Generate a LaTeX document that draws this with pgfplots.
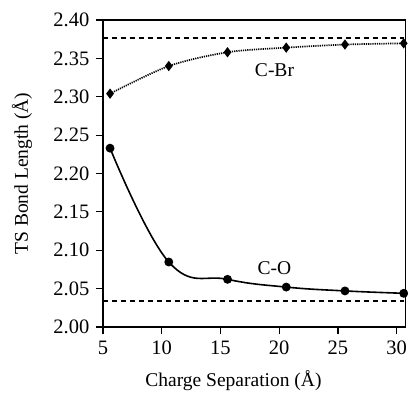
\documentclass[border=0pt]{standalone}
\usepackage{pgfplots}
\pgfplotsset{compat=1.18}
\usepackage{fontspec}
\setmainfont{Liberation Serif}
\begin{document}
\fontsize{19.5}{22}\selectfont
\begin{tikzpicture}
\path[use as bounding box] (0,0) rectangle (408pt,393pt);
\begin{axis}[
  at={(103pt,66pt)}, anchor=south west,
  scale only axis, width=302.7pt, height=307pt,
  xmin=5, xmax=30.77, ymin=2.00, ymax=2.40,
  xtick={5,10,15,20,25,30},
  ytick={2.00,2.05,2.10,2.15,2.20,2.25,2.30,2.35,2.40},
  yticklabel style={/pgf/number format/.cd,fixed,fixed zerofill,precision=2},
  /pgf/number format/assume math mode=true,
  tick label style={font=\fontsize{20.5}{22}\selectfont},
  label style={font=\fontsize{19.5}{22}\selectfont},
  tick align=outside, major tick length=7pt,
  xtick pos=bottom, ytick pos=left,
  tick style={line width=1.2pt, black},
  axis line style={line width=1.2pt},
  separate axis lines,
  every outer x axis line/.append style={line width=1.8pt},
  every outer y axis line/.append style={line width=1.8pt},
  axis x line*=bottom, axis y line*=left,
  xlabel={Charge Separation (Å)},
  ylabel={TS Bond Length (Å)},
  xlabel style={at={(axis description cs:0.431,-0.176)}, anchor=center},
  ylabel style={at={(axis description cs:-0.268,0.5)}, anchor=center},
  clip=false,
]
% top and right frame
\addplot[black, line width=1.4pt] coordinates {(5,2.40) (30.77,2.40)};
\addplot[black, line width=0.9pt] coordinates {(30.77,2.40) (30.77,2.00)};
% asymptotes
\addplot[black, line width=1.6pt, dash pattern=on 5pt off 4pt] coordinates {(5,2.3768) (30.6,2.3768)};
\addplot[black, line width=1.4pt, dash pattern=on 5pt off 4pt] coordinates {(5,2.034) (30.6,2.034)};
% C-Br
\addplot[black, line width=1.7pt, dash pattern=on 1.2pt off 1pt, smooth,
  mark=diamond*, mark size=3.8pt, mark options={solid}] coordinates {
  (5.6,2.304) (10.6,2.340) (15.6,2.358) (20.6,2.364) (25.6,2.368) (30.6,2.3696)};
% C-O
\addplot[black, line width=1.6pt, smooth, tension=0.7,
  mark=*, mark size=3.6pt] coordinates {
  (5.6,2.233) (10.6,2.0847) (15.6,2.0621) (20.6,2.052) (25.6,2.047) (30.6,2.0439)};
\node at (axis cs:19.6,2.335) {C-Br};
\node at (axis cs:19.6,2.0762) {C-O};
\end{axis}
\end{tikzpicture}
\end{document}
